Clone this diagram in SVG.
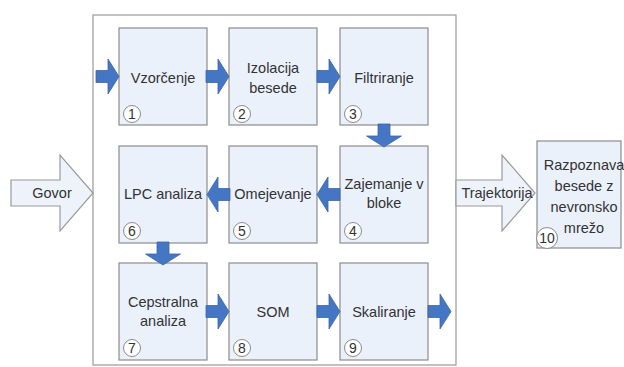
<svg xmlns="http://www.w3.org/2000/svg" width="624" height="367" viewBox="0 0 624 367">
<style>
.box{fill:#eaf1fb;stroke:#8c8c8c;stroke-width:1.2}
.cont{fill:#ffffff;stroke:#9a9a9a;stroke-width:1.2}
.t{font-family:"Liberation Sans",Arial,sans-serif;font-size:14.5px;fill:#333333;text-anchor:middle}
.n{font-family:"Liberation Sans",Arial,sans-serif;font-size:14px;fill:#333333;text-anchor:middle}
.num{fill:#ffffff;stroke:#8c8c8c;stroke-width:1}
.blue{fill:#4576c4;stroke:#3b66ad;stroke-width:0.8}
.big{fill:#eef3fb;stroke:#9a9a9a;stroke-width:1.2}
</style>
<defs>
<path id="ar" d="M0,-6 H12 V-17.5 L23,0 L12,17.5 V6 H0 Z"/>
</defs>
<rect x="0" y="0" width="624" height="367" fill="#ffffff"/>
<rect class="cont" x="93" y="15" width="363" height="350"/>

<g id="govor">
<polygon class="big" points="11,180 60,180 60,155 93,193 60,231 60,206 11,206"/>
<text class="t" x="52" y="198">Govor</text>
</g>
<g id="trajektorija">
<polygon class="big" points="456,180 502,180 502,155 535,193 502,231 502,206 456,206"/>
<text class="t" x="497" y="198">Trajektorija</text>
</g>

<g id="n1"><rect class="box" x="119" y="28" width="88" height="97"/><text class="t" x="163" y="83">Vzorčenje</text><circle class="num" cx="132" cy="114" r="8.5"/><text class="n" x="132" y="119">1</text></g>
<g id="n2"><rect class="box" x="229" y="28" width="88" height="97"/><text class="t" x="273" y="73">Izolacija</text><text class="t" x="273" y="93">besede</text><circle class="num" cx="242" cy="114" r="8.5"/><text class="n" x="242" y="119">2</text></g>
<g id="n3"><rect class="box" x="340" y="28" width="88" height="97"/><text class="t" x="384" y="83">Filtriranje</text><circle class="num" cx="353" cy="114" r="8.5"/><text class="n" x="353" y="119">3</text></g>
<g id="n4"><rect class="box" x="340" y="146" width="88" height="97"/><text class="t" x="384" y="189">Zajemanje v</text><text class="t" x="384" y="208">bloke</text><circle class="num" cx="353" cy="231" r="8.5"/><text class="n" x="353" y="236">4</text></g>
<g id="n5"><rect class="box" x="229" y="146" width="88" height="97"/><text class="t" x="273" y="199">Omejevanje</text><circle class="num" cx="242" cy="231" r="8.5"/><text class="n" x="242" y="236">5</text></g>
<g id="n6"><rect class="box" x="119" y="146" width="88" height="97"/><text class="t" x="163" y="199">LPC analiza</text><circle class="num" cx="132" cy="231" r="8.5"/><text class="n" x="132" y="236">6</text></g>
<g id="n7"><rect class="box" x="119" y="263" width="88" height="97"/><text class="t" x="163" y="307">Cepstralna</text><text class="t" x="163" y="326">analiza</text><circle class="num" cx="132" cy="348" r="8.5"/><text class="n" x="132" y="353">7</text></g>
<g id="n8"><rect class="box" x="229" y="263" width="88" height="97"/><text class="t" x="273" y="317">SOM</text><circle class="num" cx="242" cy="348" r="8.5"/><text class="n" x="242" y="353">8</text></g>
<g id="n9"><rect class="box" x="340" y="263" width="88" height="97"/><text class="t" x="384" y="317">Skaliranje</text><circle class="num" cx="353" cy="348" r="8.5"/><text class="n" x="353" y="353">9</text></g>
<g id="n10"><rect class="box" x="537" y="141" width="84" height="107"/><text class="t" x="584" y="170">Razpoznava</text><text class="t" x="584" y="191">besede z</text><text class="t" x="584" y="212">nevronsko</text><text class="t" x="584" y="233">mrežo</text><circle class="num" cx="547" cy="238" r="10.5"/><text class="n" x="547" y="243">10</text></g>

<g id="connectors">
<use href="#ar" class="blue" transform="translate(96,76.5)"/>
<use href="#ar" class="blue" transform="translate(206,76.5)"/>
<use href="#ar" class="blue" transform="translate(317,76.5)"/>
<use href="#ar" class="blue" transform="translate(384,124) rotate(90)"/>
<use href="#ar" class="blue" transform="translate(340,194.5) rotate(180)"/>
<use href="#ar" class="blue" transform="translate(230,194.5) rotate(180)"/>
<use href="#ar" class="blue" transform="translate(163,242) rotate(90)"/>
<use href="#ar" class="blue" transform="translate(206,311.5)"/>
<use href="#ar" class="blue" transform="translate(317,311.5)"/>
<use href="#ar" class="blue" transform="translate(428,311.5)"/>
</g>
</svg>
